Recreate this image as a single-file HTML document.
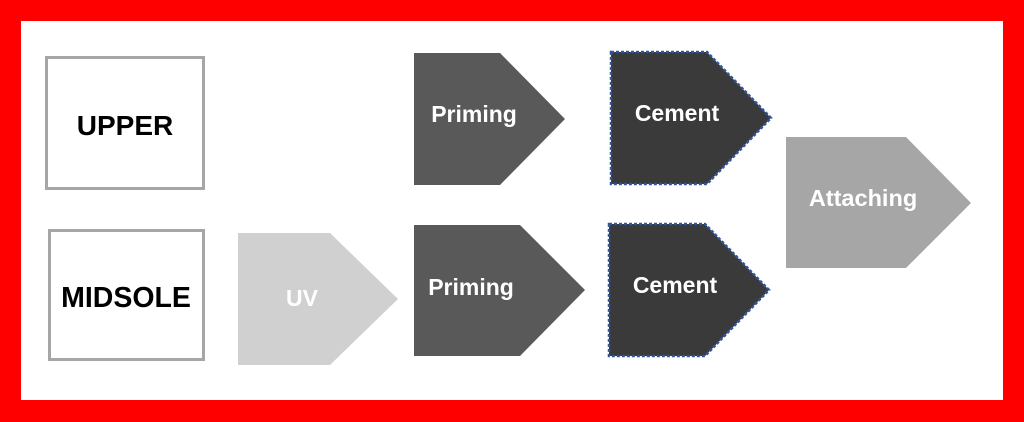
<!DOCTYPE html>
<html><head><style>
html,body{margin:0;padding:0;background:#fff;}
</style></head><body>
<svg width="1024" height="422" xmlns="http://www.w3.org/2000/svg" style="display:block">
<rect x="0" y="0" width="1024" height="422" fill="#ff0000"/>
<rect x="21" y="21" width="982" height="379" fill="#ffffff"/>
<rect x="46.5" y="57.5" width="157" height="131" fill="none" stroke="#a6a6a6" stroke-width="3"/>
<rect x="49.5" y="230.5" width="154" height="129" fill="none" stroke="#a6a6a6" stroke-width="3"/>
<g font-family="Liberation Sans, sans-serif" font-weight="bold">
<text x="125" y="135" font-size="28" text-anchor="middle" fill="#000">UPPER</text>
<text x="126" y="307" font-size="28.5" text-anchor="middle" fill="#000">MIDSOLE</text>
<polygon points="238,233 330,233 398,299 330,365 238,365" fill="#d0d0d0"/>
<text x="302" y="306" font-size="23" text-anchor="middle" fill="#fff">UV</text>
<polygon points="414,53 500,53 565,119 500,185 414,185" fill="#595959"/>
<text x="474" y="122" font-size="23" text-anchor="middle" fill="#fff">Priming</text>
<polygon points="414,225 520,225 585,290 520,356 414,356" fill="#595959"/>
<text x="471" y="295" font-size="23" text-anchor="middle" fill="#fff">Priming</text>
<polygon points="611,52 707,52 771,118 707,184 611,184" fill="#3a3a3a" stroke="#2f5597" stroke-width="2.5" stroke-dasharray="3,2"/>
<text x="677" y="121" font-size="23" text-anchor="middle" fill="#fff">Cement</text>
<polygon points="609,224 705,224 769,290 705,356 609,356" fill="#3a3a3a" stroke="#2f5597" stroke-width="2.5" stroke-dasharray="3,2"/>
<text x="675" y="293" font-size="23" text-anchor="middle" fill="#fff">Cement</text>
<polygon points="786,137 906,137 971,203 906,268 786,268" fill="#a6a6a6"/>
<text x="863" y="206" font-size="23.5" text-anchor="middle" fill="#fff">Attaching</text>
</g>
</svg>
</body></html>
